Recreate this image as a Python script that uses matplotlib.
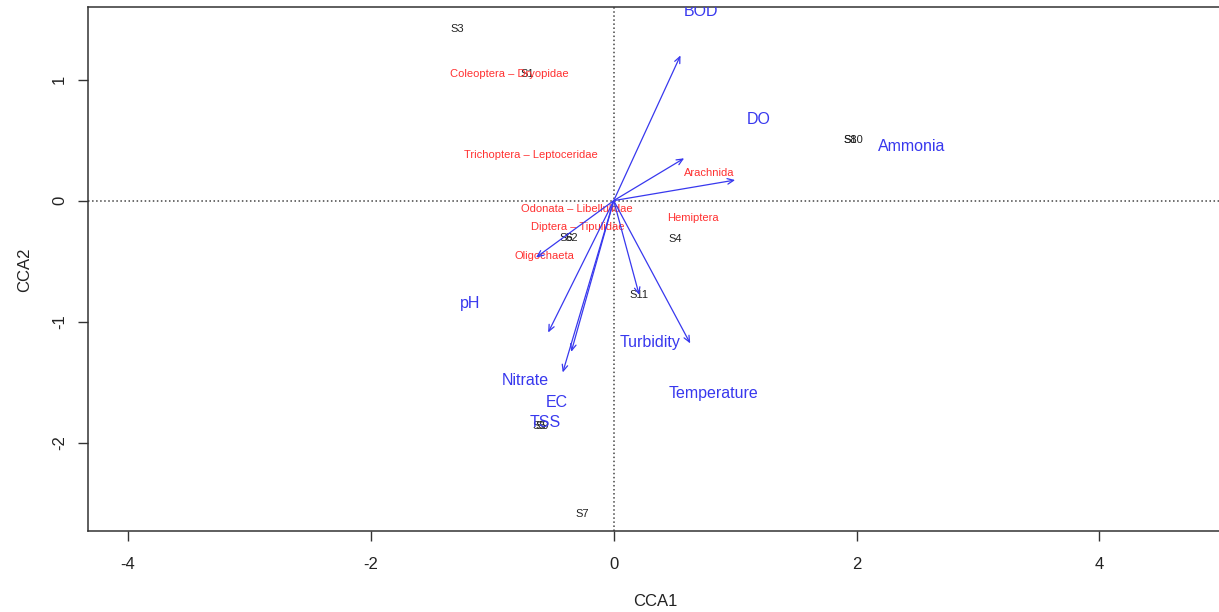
import matplotlib.pyplot as plt

plt.rcParams['font.family'] = ['Liberation Sans', 'DejaVu Sans']

# --- data ---
site_names = ['S3', 'S1', 'S8', 'S10', 'S4', 'S6', 'S2', 'S11', 'S5', 'S9', 'S7']
site_x = [-1.29, -0.71, 1.95, 1.97, 0.51, -0.39, -0.35, 0.21, -0.61, -0.59, -0.26]
site_y = [1.42, 1.05, 0.50, 0.50, -0.32, -0.31, -0.31, -0.78, -1.86, -1.86, -2.59]

species_names = ['Coleoptera \u2013 Dryopidae', 'Trichoptera \u2013 Leptoceridae', 'Arachnida',
                 'Odonata \u2013 Libellulidae', 'Hemiptera', 'Diptera \u2013 Tipulidae', 'Oligochaeta']
species_x = [-0.86, -0.68, 0.79, -0.30, 0.65, -0.30, -0.57]
species_y = [1.05, 0.38, 0.23, -0.07, -0.14, -0.22, -0.46]

env_names = ['BOD', 'DO', 'Ammonia', 'pH', 'Turbidity', 'Nitrate', 'Temperature', 'EC', 'TSS']
arrow_x = [0.55, 0.58, 1.00, -0.64, 0.21, -0.54, 0.63, -0.35, -0.42]
arrow_y = [1.20, 0.35, 0.17, -0.47, -0.78, -1.09, -1.18, -1.25, -1.42]
label_x = [0.72, 1.19, 2.45, -1.18, 0.30, -0.73, 0.82, -0.47, -0.56]
label_y = [1.56, 0.67, 0.45, -0.85, -1.17, -1.49, -1.59, -1.67, -1.83]

x_ticks = [-4, -2, 0, 2, 4]
y_ticks = [-2, -1, 0, 1]

blue = '#3838ee'
red = '#ff3030'

fig = plt.figure(figsize=(12.19, 6.12), dpi=100)
ax = fig.add_axes([88 / 1219, 1 - 531 / 612, (1222 - 88) / 1219, (531 - 7) / 612])
ax.set_xlim(-4.33, 5.01)
ax.set_ylim(-2.73, 1.60)

# reference lines through the origin
ax.axhline(0, color='#444444', linestyle=':', lw=1.1, zorder=1)
ax.axvline(0, color='#444444', linestyle=':', lw=1.1, zorder=1)

# sites
for name, x, y in zip(site_names, site_x, site_y):
    ax.text(x, y, name, color='#222222', fontsize=8, ha='center', va='center', clip_on=True)

# species
for name, x, y in zip(species_names, species_x, species_y):
    ax.text(x, y, name, color=red, fontsize=8, ha='center', va='center', clip_on=True)

# environmental arrows
for name, ax_, ay_, lx, ly in zip(env_names, arrow_x, arrow_y, label_x, label_y):
    ax.annotate('', xy=(ax_, ay_), xytext=(0, 0),
                arrowprops=dict(arrowstyle='->,head_length=0.45,head_width=0.2',
                                color=blue, lw=0.9, shrinkA=0, shrinkB=0))
    ax.text(lx, ly, name, color=blue, fontsize=11.5, ha='center', va='center', clip_on=True)

ax.set_xticks(x_ticks)
ax.set_yticks(y_ticks)
ax.set_xticklabels([str(t) for t in x_ticks], fontsize=12)
ax.set_yticklabels([str(t) for t in y_ticks], fontsize=12, rotation=90, va='center')
ax.tick_params(direction='out', length=7, width=1, color='#333333', labelcolor='#222222')
ax.tick_params(axis='x', pad=11.5)
ax.tick_params(axis='y', pad=8)
for side in ['left', 'bottom', 'top', 'right']:
    ax.spines[side].set_color('#333333')
    ax.spines[side].set_linewidth(1.1)

ax.set_xlabel('CCA1', fontsize=12, color='#222222')
ax.set_ylabel('CCA2', fontsize=12, color='#222222')
ax.xaxis.set_label_coords(0.5, -0.120)
ax.yaxis.set_label_coords(-0.0494, 0.498)

fig.savefig('out.png', dpi=100)
